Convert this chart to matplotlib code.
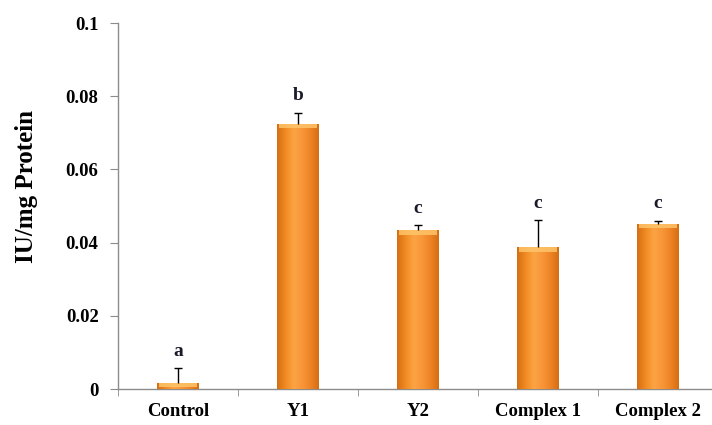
import numpy as np
import matplotlib
matplotlib.use('Agg')
import matplotlib.pyplot as plt
from matplotlib.colors import LinearSegmentedColormap

plt.rcParams['font.family'] = ['Liberation Serif', 'DejaVu Serif']
plt.rcParams['font.weight'] = 'bold'

# data
groups = ['Control', 'Y1', 'Y2', 'Complex 1', 'Complex 2']
values = [0.0017, 0.0725, 0.0434, 0.0387, 0.0452]
errors = [0.0040, 0.0030, 0.0014, 0.0074, 0.0008]
letters = ['a', 'b', 'c', 'c', 'c']
yticks = [0, 0.02, 0.04, 0.06, 0.08, 0.1]
ytick_labels = ['0', '0.02', '0.04', '0.06', '0.08', '0.1']

axis_gray = '#8c8c8c'

fig = plt.figure(figsize=(7.12, 4.25), dpi=100)
ax = fig.add_axes([118 / 712, 36 / 425, 600 / 712, 366 / 425])

x = np.arange(len(groups))
bars = ax.bar(x, values, width=0.35, color='#F39A35', edgecolor='none', zorder=2)

# cylinder-like shading on each bar
cmap = LinearSegmentedColormap.from_list(
    'orng', ['#D46E14', '#F08A22', '#FBA443', '#F8963A', '#EE8424', '#D46E14'])
grad = np.linspace(0, 1, 256).reshape(1, -1)
for b in bars:
    bx, by = b.get_x(), b.get_y()
    bw, bh = b.get_width(), b.get_height()
    im = ax.imshow(grad, cmap=cmap, aspect='auto', extent=[bx, bx + bw, by, by + bh],
                   zorder=3, interpolation='bicubic')
    im.set_clip_path(b)
    # light rim on top of the bar
    cap = min(bh, 0.0012)
    ax.fill_between([bx + bw * 0.04, bx + bw * 0.96], by + bh - cap, by + bh,
                    color='#FFC46A', alpha=0.85, lw=0, zorder=4)

# upper error bars only (no lower cap)
tops = np.array(values) + np.array(errors)
ax.vlines(x, values, tops, color='black', lw=1, zorder=5)
ax.hlines(tops, x - 0.035, x + 0.035, color='black', lw=1, zorder=5)

for xi, t, lab in zip(x, tops, letters):
    ax.annotate(lab, (xi, t), xytext=(0, 6), textcoords='offset points',
                ha='center', va='bottom', fontsize=14, fontweight='bold', color='#1a1a2a')

ax.set_xlim(-0.5, len(groups) - 0.5)
ax.set_ylim(0, 0.1)
ax.set_yticks(yticks)
ax.set_yticklabels(ytick_labels, fontsize=13.5, fontweight='bold')
ax.set_xticks(x)
ax.set_xticklabels(groups, fontsize=13.5, fontweight='bold')
ax.tick_params(axis='x', which='major', length=0, pad=10)
ax.set_xticks(np.arange(len(groups) + 1) - 0.5, minor=True)
ax.tick_params(axis='x', which='minor', length=5, color=axis_gray, direction='out')
ax.tick_params(axis='y', length=6, color=axis_gray, direction='out', pad=8)

for s in ['top', 'right']:
    ax.spines[s].set_visible(False)
for s in ['left', 'bottom']:
    ax.spines[s].set_color(axis_gray)
    ax.spines[s].set_linewidth(1)

ax.set_ylabel('IU/mg Protein', fontsize=18, fontweight='bold')
ax.yaxis.set_label_coords(-0.133, 0.553)

fig.savefig('out.png', dpi=100)
